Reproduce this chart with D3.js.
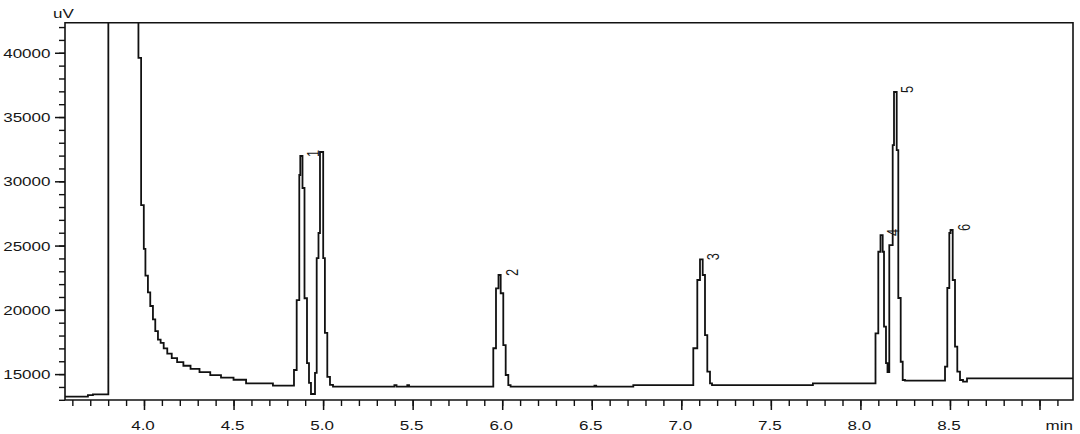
<!DOCTYPE html>
<html>
<head>
<meta charset="utf-8">
<script src="https://cdn.jsdelivr.net/npm/d3@7"></script>
<style>
  html, body { margin: 0; padding: 0; background: #fff; }
  svg { display: block; }
  text { font-family: "Liberation Sans", Arial, sans-serif; fill: #161616; }
</style>
</head>
<body>
<svg id="chart" width="1080" height="434"></svg>
<script>
// ---- data ----
const times = [
  3.559, 3.687, 3.715, 3.801, 3.969, 3.984, 3.999, 4.008, 4.022, 4.035, 4.050, 4.063, 4.078, 4.093,
  4.110, 4.130, 4.155, 4.185, 4.220, 4.260, 4.310, 4.370, 4.430, 4.500, 4.570, 4.720,
  4.8375, 4.8526, 4.8671, 4.8727, 4.8850, 4.8962, 4.9101, 4.9213, 4.9324,
  4.9548, 4.9643, 4.9743, 4.9827, 5.0006, 5.0101, 5.0235, 5.0385, 5.0553,
  5.398, 5.410, 5.470, 5.480,
  5.9503, 5.9654, 5.9794, 5.9916, 6.0061, 6.0195, 6.0341, 6.0469,
  6.515, 6.525, 6.732,
  7.0670, 7.0894, 7.1044, 7.1195, 7.1323, 7.1452, 7.1602, 7.1714,
  7.7348,
  8.0843, 8.0999, 8.1122, 8.1245, 8.1318, 8.1429, 8.1513,
  8.1613, 8.1803, 8.1876, 8.2027, 8.2116, 8.2250, 8.2362, 8.2490,
  8.4724, 8.4852, 8.4964, 8.5031, 8.5154, 8.5282, 8.5410, 8.5561, 8.5729, 8.5952, 9.187
];
const signal = [
  13240, 13370, 13430, 60000, 39600, 28150, 24750, 22660, 21360, 20300, 19260, 18350, 17690, 17430,
  17000, 16600, 16250, 15930, 15650, 15400, 15150, 14920, 14720, 14560, 14280, 14110,
  15320, 20760, 30490, 31970, 29480, 20900, 15850, 14310, 13450,
  15090, 24030, 25980, 32280, 24030, 18200, 14780, 14160, 14020,
  14140, 14020, 14140, 14020,
  17010, 21670, 22710, 21290, 17260, 14930, 14150, 14020,
  14100, 14020, 14150,
  17010, 22320, 23930, 22710, 18040, 15190, 14280, 14150,
  14280,
  18170, 24520, 25820, 24520, 18690, 15860, 15160,
  25040, 32820, 36950, 32430, 20920, 15960, 14540, 14490,
  15580, 21700, 25980, 26210, 22320, 17130, 15190, 14540, 14410, 14670, 14670
];
const peakNames   = ["1", "2", "3", "4", "5", "6"];
const peakTimes   = [4.8727, 5.9794, 7.1044, 8.1122, 8.1876, 8.5031];
const peakHeights = [31970, 22710, 23930, 25820, 36950, 26210];

const xMajorTicks = [4.0, 4.5, 5.0, 5.5, 6.0, 6.5, 7.0, 7.5, 8.0, 8.5, 9.0];
const xTickLabels = ["4.0", "4.5", "5.0", "5.5", "6.0", "6.5", "7.0", "7.5", "8.0", "8.5", ""];
const xMinorTicks = d3.range(36, 92).map(d => d / 10);
const yMajorTicks = [15000, 20000, 25000, 30000, 35000, 40000];
const yMinorTicks = d3.range(13, 43).map(d => d * 1000);
const xUnit = "min";
const yUnit = "uV";

// ---- layout ----
const L = 65, R = 1073, T = 22.7, B = 400;
const stretch = 1.33;

const svg = d3.select("#chart");
const x = d3.scaleLinear().domain([3.559, 9.187]).range([L, R]);
const y = d3.scaleLinear().domain([12985, 42340]).range([B, T]);

// minor ticks
svg.append("g").attr("transform", `translate(0,${B})`)
  .call(d3.axisBottom(x).tickValues(xMinorTicks).tickSize(6).tickSizeOuter(0).tickFormat(""))
  .call(g => g.select(".domain").remove())
  .call(g => g.selectAll("line").attr("stroke", "#111").attr("stroke-width", 1.4));
svg.append("g").attr("transform", `translate(${L},0)`)
  .call(d3.axisLeft(y).tickValues(yMinorTicks).tickSize(6).tickSizeOuter(0).tickFormat(""))
  .call(g => g.select(".domain").remove())
  .call(g => g.selectAll("line").attr("stroke", "#111").attr("stroke-width", 1.4));

// major x axis
const gx = svg.append("g").attr("transform", `translate(0,${B})`)
  .call(d3.axisBottom(x).tickValues(xMajorTicks).tickSize(10).tickSizeOuter(0)
    .tickFormat((d, i) => xTickLabels[i]));
gx.select(".domain").remove();
gx.selectAll("line").attr("stroke", "#111").attr("stroke-width", 1.5);
gx.selectAll("text")
  .attr("x", null).attr("y", null).attr("dy", null)
  .attr("text-anchor", "middle")
  .attr("transform", `translate(-1.5,30) scale(${stretch},1)`)
  .style("font-size", "12.8px").attr("fill", "#161616");

// major y axis
const gy = svg.append("g").attr("transform", `translate(${L},0)`)
  .call(d3.axisLeft(y).tickValues(yMajorTicks).tickSize(10).tickSizeOuter(0)
    .tickFormat(d3.format("d")));
gy.select(".domain").remove();
gy.selectAll("line").attr("stroke", "#111").attr("stroke-width", 1.5);
gy.selectAll("text")
  .attr("x", null).attr("y", null).attr("dy", null)
  .attr("text-anchor", "end")
  .attr("transform", `translate(-14.5,4.5) scale(${stretch},1)`)
  .style("font-size", "12.8px").attr("fill", "#161616");

// clip + trace
svg.append("clipPath").attr("id", "plotclip")
  .append("rect").attr("x", L).attr("y", T).attr("width", R - L).attr("height", B - T);

const pts = times.map((t, i) => [t, signal[i]]);
const line = d3.line().x(d => x(d[0])).y(d => y(d[1])).curve(d3.curveStepAfter);
svg.append("path")
  .attr("clip-path", "url(#plotclip)")
  .attr("d", line(pts))
  .attr("fill", "none").attr("stroke", "#111").attr("stroke-width", 1.8)
  .attr("stroke-linejoin", "miter");

// frame
svg.append("path")
  .attr("d", `M${L},${B}V${T}H${R}V${B}H${L}`)
  .attr("fill", "none").attr("stroke", "#111").attr("stroke-width", 1.6);

// peak labels (rotated)
svg.append("g").selectAll("text").data(peakNames).join("text")
  .attr("transform", (d, i) => `translate(${x(peakTimes[i]) + 19},${y(peakHeights[i]) + 1}) scale(${stretch},1) rotate(-90)`)
  .style("font-size", "12.8px")
  .text(d => d);

// units
svg.append("text").attr("transform", `translate(53,18) scale(${stretch},1)`)
  .style("font-size", "12.8px").text(yUnit);
svg.append("text").attr("transform", `translate(${R},430) scale(${stretch},1)`)
  .attr("text-anchor", "end").style("font-size", "12.8px").text(xUnit);
</script>
</body>
</html>
